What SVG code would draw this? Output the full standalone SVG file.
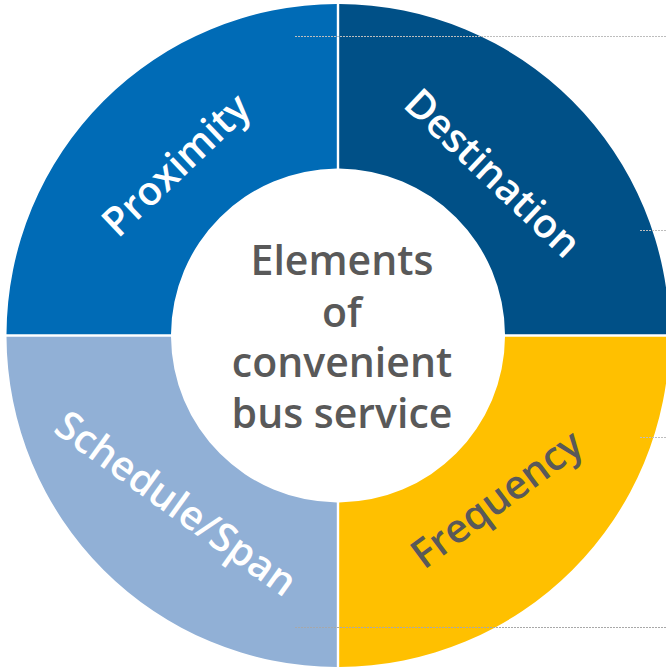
<svg xmlns="http://www.w3.org/2000/svg" width="666" height="668" viewBox="0 0 666 668">
<style>
.lbl{font-family:"Open Sans","Noto Sans","DejaVu Sans",sans-serif;font-weight:600;font-size:40px;text-anchor:middle}
.w{fill:#ffffff}
.g{fill:#595959}
.ctr{font-family:"Open Sans","Noto Sans","DejaVu Sans",sans-serif;font-weight:600;font-size:41px;fill:#595959;text-anchor:middle}
.guide{stroke:#bdbdbd;stroke-width:1;stroke-dasharray:2 1;fill:none}
</style>
<rect width="666" height="668" fill="#ffffff"/>
<g id="proximity">
<path d="M 6.5 334.3 A 331.5 331.5 0 0 1 336.8 4 L 336.8 168.5 A 167 167 0 0 0 171 334.3 Z" fill="#006BB6"/>
<text class="lbl w" transform="translate(178,167) rotate(-43.5)" x="0" y="11">Proximity</text>
</g>
<g id="destination">
<path d="M 339.2 4 A 331.5 331.5 0 0 1 669.5 334.3 L 505 334.3 A 167 167 0 0 0 339.2 168.5 Z" fill="#005087"/>
<text class="lbl w" transform="translate(491.5,174.5) rotate(43.4)" x="0" y="12">Destination</text>
</g>
<g id="frequency">
<path d="M 669.5 336.7 A 331.5 331.5 0 0 1 339.2 667 L 339.2 502.5 A 167 167 0 0 0 505 336.7 Z" fill="#FFC000"/>
<text class="lbl g" transform="translate(499,502) rotate(-36.6)" x="0" y="10">Frequency</text>
</g>
<g id="schedule">
<path d="M 336.8 667 A 331.5 331.5 0 0 1 6.5 336.7 L 171 336.7 A 167 167 0 0 0 336.8 502.5 Z" fill="#91B0D6"/>
<text class="lbl w" transform="translate(175,505) rotate(35.7)" x="0" y="12">Schedule/Span</text>
</g>
<g id="center">
<text class="ctr" x="342" y="275">Elements</text>
<text class="ctr" x="342" y="327">of</text>
<text class="ctr" x="342" y="377">convenient</text>
<text class="ctr" x="342" y="428">bus service</text>
</g>
<g id="connectors">
<line class="guide" x1="295" y1="36.5" x2="666" y2="36.5"/>
<line class="guide" x1="640" y1="230.5" x2="666" y2="230.5"/>
<line class="guide" x1="640" y1="437.5" x2="666" y2="437.5"/>
<line class="guide" x1="295" y1="627.5" x2="666" y2="627.5" style="stroke:#a8a8a8"/>
</g>
</svg>
